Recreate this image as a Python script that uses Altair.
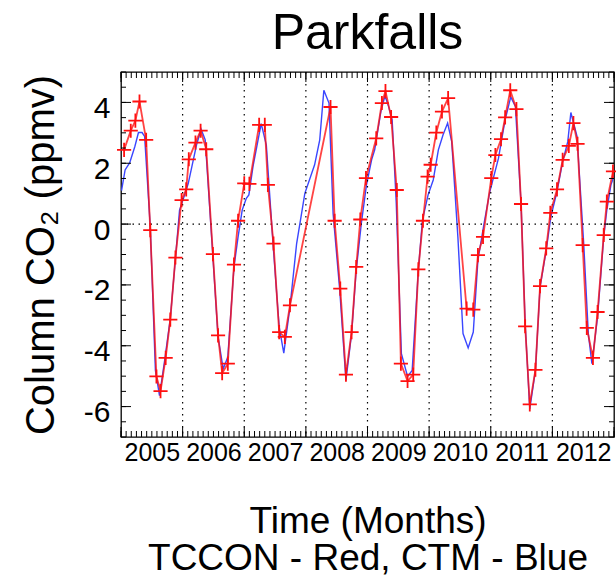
import altair as alt
import pandas as pd

# ---- data (months since Jan 2005, column CO2 anomaly in ppmv)
tccon_month = [0.6, 1.9, 2.8, 3.6, 4.9, 5.7, 6.9, 7.7, 8.7, 9.6, 10.6, 11.8,
               12.7, 13.2, 14.5, 15.5, 16.6, 17.9, 18.9, 19.7, 20.8, 22.0, 22.8,
               24.0, 25.0, 26.9, 28.0, 28.6, 29.7, 30.8, 31.9, 32.9,
               40.8, 41.6, 42.7, 43.8, 44.9, 45.8, 46.6, 47.7,
               49.7, 50.8, 51.5, 52.6, 53.7, 54.5, 55.8, 56.9, 57.9, 58.8, 59.7,
               60.3, 61.4, 62.5, 63.7, 67.3, 68.6, 69.5, 70.5,
               72.1, 72.9, 74.0, 74.8, 75.8, 77.0, 77.9, 78.7, 79.6, 80.7, 81.6, 82.8, 83.6,
               84.9, 86.0, 87.2, 88.1, 88.9, 89.9, 90.7, 91.9, 92.8, 94.0, 94.6, 95.8]
tccon_value = [2.44, 3.07, 3.40, 4.03, 2.77, -0.20, -5.01, -5.49, -4.40, -3.14, -1.10, 0.79,
               1.14, 2.13, 2.68, 3.07, 2.46, -0.99, -3.66, -4.90, -4.59, -1.33, 0.11,
               1.34, 1.32, 3.26, 3.26, 1.29, -0.64, -3.55, -3.71, -2.67,
               3.85, 0.11, -2.12, -4.95, -3.55, -1.41, 0.15, 1.51,
               2.82, 3.98, 4.37, 3.52, 1.12, -4.59, -5.16, -4.95, -1.49, 0.11, 1.56,
               1.95, 3.01, 3.70, 4.14, -2.78, -2.81, -1.02, -0.42,
               1.51, 2.27, 2.79, 3.51, 4.40, 3.78, 0.66, -3.36, -5.93, -4.79, -2.04, -0.80, 0.37,
               1.14, 2.11, 2.57, 3.32, 2.64, -0.69, -3.41, -4.40, -2.89, -0.36, 0.74, 1.73]

ctm_month = [0.1, 0.8, 1.7, 2.7, 3.4, 4.1, 4.6, 5.7, 6.7, 7.5, 8.5, 9.6, 10.6, 11.4,
             12.4, 13.1, 13.8, 14.7, 15.6, 16.4, 17.9, 18.9, 19.9, 20.8, 22.0, 22.8, 23.6,
             24.4, 24.9, 25.7, 27.3, 28.3, 29.6, 30.8, 31.7, 32.9, 34.2, 35.8,
             37.7, 38.7, 39.5, 40.5, 41.3, 42.6, 43.8, 44.9, 45.8, 46.8, 47.8,
             48.8, 49.4, 50.6, 51.4, 52.1, 52.8, 53.6, 54.6, 55.8, 56.7, 57.9, 58.7, 59.8,
             60.8, 61.8, 62.7, 63.6, 64.4, 65.6, 66.6, 67.6, 68.6, 69.5, 70.7, 71.8,
             73.5, 74.8, 75.9, 76.8, 77.9, 78.7, 79.6, 80.7, 81.6, 82.8, 83.7,
             84.9, 86.0, 87.0, 87.6, 88.8, 90.1, 91.0, 91.7, 92.8, 94.0, 94.6, 95.4, 96.2]
ctm_value = [1.10, 1.78, 2.02, 2.55, 3.01, 3.01, 2.88, -0.09, -4.81, -5.64, -4.48, -3.11, -1.13, 0.46,
             0.96, 1.34, 1.89, 2.60, 3.12, 2.77, -1.08, -3.71, -4.76, -4.37, -1.41, -0.42, 0.46,
             0.85, 0.96, 1.89, 3.30, 2.60, -0.64, -3.38, -4.24, -2.73, -0.64, 1.01,
             1.95, 2.77, 4.40, 3.98, 0.35, -2.18, -5.14, -3.60, -1.52, 0.02, 1.29,
             2.11, 2.44, 3.70, 4.22, 3.87, 3.43, 0.68, -4.26, -5.01, -4.81, -1.52, 0.13, 0.96,
             1.45, 2.44, 2.93, 3.32, 2.71, -0.42, -3.60, -4.07, -3.55, -1.19, 0.02, 1.05,
             2.16, 3.43, 4.18, 3.87, 0.68, -3.27, -6.08, -4.81, -2.07, -0.86, 0.24,
             1.07, 2.05, 2.71, 3.67, 2.88, -0.64, -3.60, -4.59, -3.05, -0.42, 0.46, 1.29, 1.67]

year_labels = ["2005", "2006", "2007", "2008", "2009", "2010", "2011", "2012"]
year_label_month = [6, 18, 30, 42, 54, 66, 78, 90]
year_start_month = [12, 24, 36, 48, 60, 72, 84]
y_tick_values = [-6, -4, -2, 0, 2, 4]

W, H = 493, 365
FONT = "Liberation Sans"

tccon = pd.DataFrame({"m": tccon_month, "v": tccon_value})
ctm = pd.DataFrame({"m": ctm_month, "v": ctm_value})

xs = alt.Scale(domain=[0, 96], nice=False, zero=False)
ys = alt.Scale(domain=[-7, 5], nice=False, zero=False)

label_expr = "[" + ",".join("'%s'" % s for s in year_labels) + "][floor(datum.value / 12)]"

x_axis = alt.Axis(
    values=year_label_month, labelExpr=label_expr, ticks=False, domain=False, grid=False,
    labelFont=FONT, labelFontSize=25, labelColor="black", labelPadding=3,
    labelOverlap=False,
    title=["Time (Months)", "TCCON - Red, CTM - Blue"], titleFont=FONT,
    titleFontSize=37, titleFontWeight="normal", titleColor="black",
    titleLineHeight=37, titlePadding=38)
y_axis = alt.Axis(
    values=y_tick_values, ticks=False, domain=False, grid=False,
    labelExpr="datum.value < 0 ? '-' + abs(datum.value) : '' + datum.value",
    labelFont=FONT, labelFontSize=30, labelColor="black", labelPadding=11,
    labelOffset=6, title="Column CO\u2082 (ppmv)", titleFont=FONT, titleFontSize=40,
    titleFontWeight="normal", titleColor="black", titlePadding=22)

X = alt.X("m:Q", scale=xs, axis=x_axis)
Y = alt.Y("v:Q", scale=ys, axis=y_axis)

blue = alt.Chart(ctm).mark_line(color="#3a46ff", strokeWidth=1.4, clip=True).encode(
    x=X, y=Y, order="m:Q")

red_line = alt.Chart(tccon).mark_line(color="#ff1010", strokeWidth=1.8, opacity=0.78, clip=True).encode(
    x=X, y=Y, order="m:Q")

red_pts = alt.Chart(tccon).mark_point(
    shape="M-1,0H1M0,-1V1", filled=False, color="#ff1010", strokeWidth=1.8, size=200, opacity=1
).encode(x=X, y=Y)

dot = dict(color="black", strokeDash=[1.5, 4.5], strokeWidth=1.2)
vgrid = alt.Chart(pd.DataFrame({"m": year_start_month})).mark_rule(**dot).encode(x=X)
hgrid = alt.Chart(pd.DataFrame({"v": [0]})).mark_rule(**dot).encode(y=Y)

# inward tick marks (IDL style box)
months_all = pd.DataFrame({"m": list(range(0, 97))})
years_all = pd.DataFrame({"m": list(range(0, 97, 12))})
halves = pd.DataFrame({"v": [i / 2 for i in range(-14, 11)]})
majors = pd.DataFrame({"v": list(range(-6, 5, 2))})

def xticks(df, length):
    base = alt.Chart(df).mark_rule(color="black", strokeWidth=1)
    bot = base.encode(x=X, y=alt.value(H), y2=alt.value(H - length))
    top = base.encode(x=X, y=alt.value(0), y2=alt.value(length))
    return bot + top

def yticks(df, length):
    base = alt.Chart(df).mark_rule(color="black", strokeWidth=1)
    left = base.encode(y=Y, x=alt.value(0), x2=alt.value(length))
    right = base.encode(y=Y, x=alt.value(W), x2=alt.value(W - length))
    return left + right

chart = alt.layer(
    blue, vgrid, hgrid, red_line, red_pts,
    xticks(months_all, 6), xticks(years_all, 10),
    yticks(halves, 5), yticks(majors, 10),
).properties(
    width=W, height=H,
    title=alt.TitleParams("Parkfalls", font=FONT, fontSize=50, fontWeight="normal",
                          color="black", offset=12),
    autosize=alt.AutoSizeParams(type="none"),
    padding={"left": 121, "top": 72, "right": 2, "bottom": 141},
    background="white",
).configure_view(stroke="black", strokeWidth=1.3)

chart.save("out.html", embed_options={"renderer": "svg", "actions": False})
